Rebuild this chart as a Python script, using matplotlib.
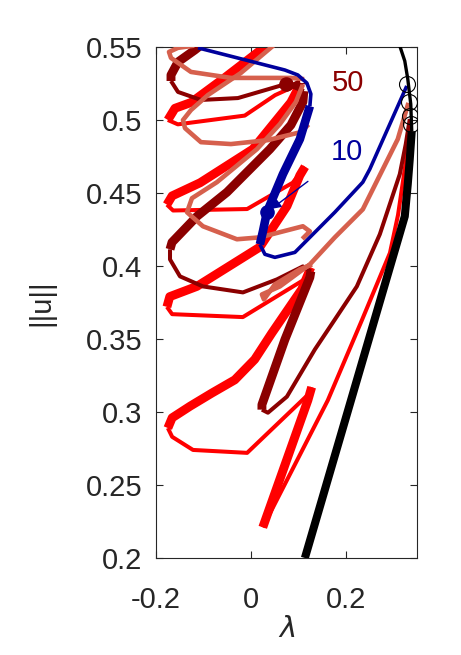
import matplotlib
matplotlib.use("Agg")
import matplotlib.pyplot as plt
import numpy as np

plt.rcParams['font.family'] = ['Liberation Sans', 'DejaVu Sans']

# ---------------- data (lambda, ||u||) ----------------
# main (black) branch
black_lam = [0.1137, 0.3242, 0.3305, 0.3347, 0.3389, 0.3368, 0.3305, 0.3242, 0.3137]
black_u   = [0.2000, 0.4340, 0.4560, 0.4732, 0.4924, 0.5109, 0.5281, 0.5404, 0.5507]
black_segs = [(0, 4, True), (4, 8, False)]

# bifurcation points (open circles)
bp_lam = [0.3284, 0.3326, 0.3347, 0.3380]
bp_u   = [0.5246, 0.5123, 0.5027, 0.4972]

# red branch
red_lam = [0.337, 0.324, 0.310, 0.293, 0.234, 0.162, 0.025,
           0.120, 0.128,
           0.124, -0.008, -0.122, -0.166, -0.175,
           -0.166, -0.128, -0.082, -0.034, 0.008, 0.044, 0.107, 0.120, 0.126,
           0.114, -0.017, -0.166, -0.177,
           -0.171, -0.114, 0.019, 0.076, 0.103, 0.114,
           0.088, 0.040, -0.008, -0.164, -0.177,
           -0.166, -0.107, 0.004, 0.084, 0.105,
           0.051, -0.013, -0.154, -0.175,
           -0.160, -0.126, -0.055, 0.021, 0.036]
red_u = [0.494, 0.466, 0.435, 0.409, 0.363, 0.308, 0.221,
         0.308, 0.317,
         0.313, 0.272, 0.274, 0.283, 0.289,
         0.296, 0.304, 0.313, 0.322, 0.336, 0.354, 0.384, 0.394, 0.399,
         0.391, 0.365, 0.367, 0.372,
         0.379, 0.386, 0.413, 0.441, 0.462, 0.468,
         0.457, 0.448, 0.439, 0.438, 0.442,
         0.448, 0.457, 0.480, 0.512, 0.525,
         0.517, 0.503, 0.497, 0.500,
         0.508, 0.512, 0.529, 0.548, 0.552]
red_segs = [(0, 6, False), (6, 8, True), (8, 13, False), (13, 22, True),
            (22, 26, False), (26, 32, True), (32, 37, False), (37, 42, True),
            (42, 46, False), (46, 51, True)]

# dark red branch
dred_lam = [0.3347, 0.3263, 0.3137, 0.2716, 0.2232, 0.1768, 0.1347, 0.0758, 0.0358, 0.0232,
            0.0232, 0.0716, 0.1242, 0.1263,
            0.1095, 0.0547, -0.0168, -0.1011, -0.1495, -0.1705, -0.1705,
            -0.1663, -0.1137, -0.0505, 0.0400, 0.0842, 0.1095, 0.1116,
            0.0737, -0.0274, -0.1053, -0.1537, -0.1684,
            -0.1684, -0.1537, -0.1179, -0.1074]
dred_u = [0.5006, 0.4835, 0.4629, 0.4217, 0.3860, 0.3633, 0.3428, 0.3105, 0.2995, 0.3016,
          0.3050, 0.3496, 0.3922, 0.3963,
          0.3997, 0.3908, 0.3819, 0.3860, 0.3929, 0.4045, 0.4114,
          0.4162, 0.4340, 0.4505, 0.4800, 0.4965, 0.5123, 0.5198,
          0.5246, 0.5150, 0.5137, 0.5192, 0.5267,
          0.5308, 0.5397, 0.5480, 0.5507]
dred_segs = [(0, 9, False), (9, 13, True), (13, 20, False), (20, 27, True),
             (27, 32, False), (32, 36, True)]

# salmon branch pieces
sal1_lam = [-0.1242, -0.1537, -0.1726, -0.1684, -0.1263, -0.0421, 0.0842, 0.1074]
sal1_u   = [0.5507, 0.5494, 0.5466, 0.5425, 0.5329, 0.5288, 0.5288, 0.5281]
sal2_lam = [0.0463, -0.0211, -0.0905, -0.1263, -0.1432, -0.1389, -0.1053, -0.0421, 0.0358, 0.1053, 0.1179]
sal2_u   = [0.5507, 0.5322, 0.5171, 0.5068, 0.4999, 0.4944, 0.4848, 0.4835, 0.4862, 0.4917, 0.4958]
sal3_lam = [0.1074, 0.0947, 0.0611, 0.0126, -0.0716, -0.1242, -0.1347, -0.1011, -0.0295, 0.0189, 0.1095, 0.1242, 0.1116]
sal3_u   = [0.5226, 0.5123, 0.4972, 0.4800, 0.4574, 0.4464, 0.4368, 0.4272, 0.4183, 0.4196, 0.4272, 0.4237, 0.4196]
sal4_lam = [0.3305, 0.3095, 0.2358, 0.1768, 0.1242, 0.0611, 0.0232, 0.0274, 0.0505, 0.1032, 0.1242]
sal4_u   = [0.5102, 0.4869, 0.4388, 0.4196, 0.4011, 0.3860, 0.3805, 0.3771, 0.3874, 0.3977, 0.4004]

# blue branch
blue_lam = [0.3284, 0.2505, 0.2358, 0.1768, 0.0926, 0.0505, 0.0295, 0.0189,
            0.0253, 0.0337, 0.0674, 0.1032, 0.1242,
            0.1263, 0.1179, 0.0989, 0.0716, -0.1116]
blue_u = [0.5233, 0.4663, 0.4574, 0.4368, 0.4093, 0.4059, 0.4080, 0.4148,
          0.4237, 0.4368, 0.4629, 0.4869, 0.5095,
          0.5178, 0.5253, 0.5308, 0.5342, 0.5494]
blue_segs = [(0, 7, False), (7, 12, True), (12, 17, False)]

# labelled solutions
sol50 = (0.0737, 0.5246)
sol10 = (0.0337, 0.4368)
lab50 = (0.204, 0.5253)
lab10 = (0.202, 0.478)

xticks = [-0.2, 0, 0.2]
xtick_labels = ['-0.2', '0', '0.2']
yticks = [0.2, 0.25, 0.3, 0.35, 0.4, 0.45, 0.5, 0.55]
ytick_labels = ['0.2', '0.25', '0.3', '0.35', '0.4', '0.45', '0.5', '0.55']

# ---------------- styles ----------------
c_red = '#ff0000'
c_dred = '#8b0000'
c_sal = '#d6604d'
c_blue = '#00009c'
LW_THICK = 6.4
LW_THIN = 2.9

fig = plt.figure(figsize=(4.61, 6.55), dpi=100)
ax = fig.add_axes([0.3384, 0.1481, 0.5662, 0.7802])


def draw_branch(lam, u, segs, color, thick=LW_THICK, thin=LW_THIN, z=2):
    for (i0, i1, stable) in segs:
        ax.plot(lam[i0:i1 + 1], u[i0:i1 + 1], color=color,
                lw=thick if stable else thin, solid_capstyle='butt',
                solid_joinstyle='round', zorder=z)


draw_branch(red_lam, red_u, red_segs, c_red, z=2)
draw_branch(dred_lam, dred_u, dred_segs, c_dred, z=3)
for lam, u in [(sal1_lam, sal1_u), (sal2_lam, sal2_u), (sal3_lam, sal3_u), (sal4_lam, sal4_u)]:
    ax.plot(lam, u, color=c_sal, lw=3.3, solid_joinstyle='round', zorder=4)
draw_branch(blue_lam, blue_u, blue_segs, c_blue, thick=6.2, thin=2.6, z=5)
draw_branch(black_lam, black_u, black_segs, 'black', thick=5.8, thin=2.4, z=6)

ax.plot(bp_lam, bp_u, 'o', ms=11.5, mfc='none', mec='black', mew=0.8, zorder=7)
ax.plot(*sol50, 'o', ms=9.5, color=c_dred, zorder=8)
ax.plot(*sol10, 'o', ms=9.5, color=c_blue, zorder=8)

ax.annotate('50', xy=sol50, xytext=lab50, color=c_dred, fontsize=21,
            ha='center', va='center',
            arrowprops=dict(arrowstyle='-|>', color=c_dred, lw=1.0,
                            shrinkA=15, shrinkB=3, mutation_scale=14))
ax.annotate('10', xy=sol10, xytext=lab10, color=c_blue, fontsize=21,
            ha='center', va='center',
            arrowprops=dict(arrowstyle='-|>', color=c_blue, lw=1.0,
                            shrinkA=18, shrinkB=4, mutation_scale=14))

ax.set_xlim(-0.2, 0.35)
ax.set_ylim(0.2, 0.55)
ax.set_xticks(xticks)
ax.set_xticklabels(xtick_labels)
ax.set_yticks(yticks)
ax.set_yticklabels(ytick_labels)
ax.tick_params(direction='in', length=5, width=0.8, top=True, right=True,
               labelsize=21, colors='#262626')
ax.tick_params(axis='x', pad=20)
ax.tick_params(axis='y', pad=10)
for s in ax.spines.values():
    s.set_color('#262626')
    s.set_linewidth(0.8)
ax.set_xlabel('$\\lambda$', fontsize=21, color='#262626', labelpad=1)
ax.set_ylabel('||u||', fontsize=21, color='#262626', labelpad=22)

fig.savefig('out.png', dpi=100)
